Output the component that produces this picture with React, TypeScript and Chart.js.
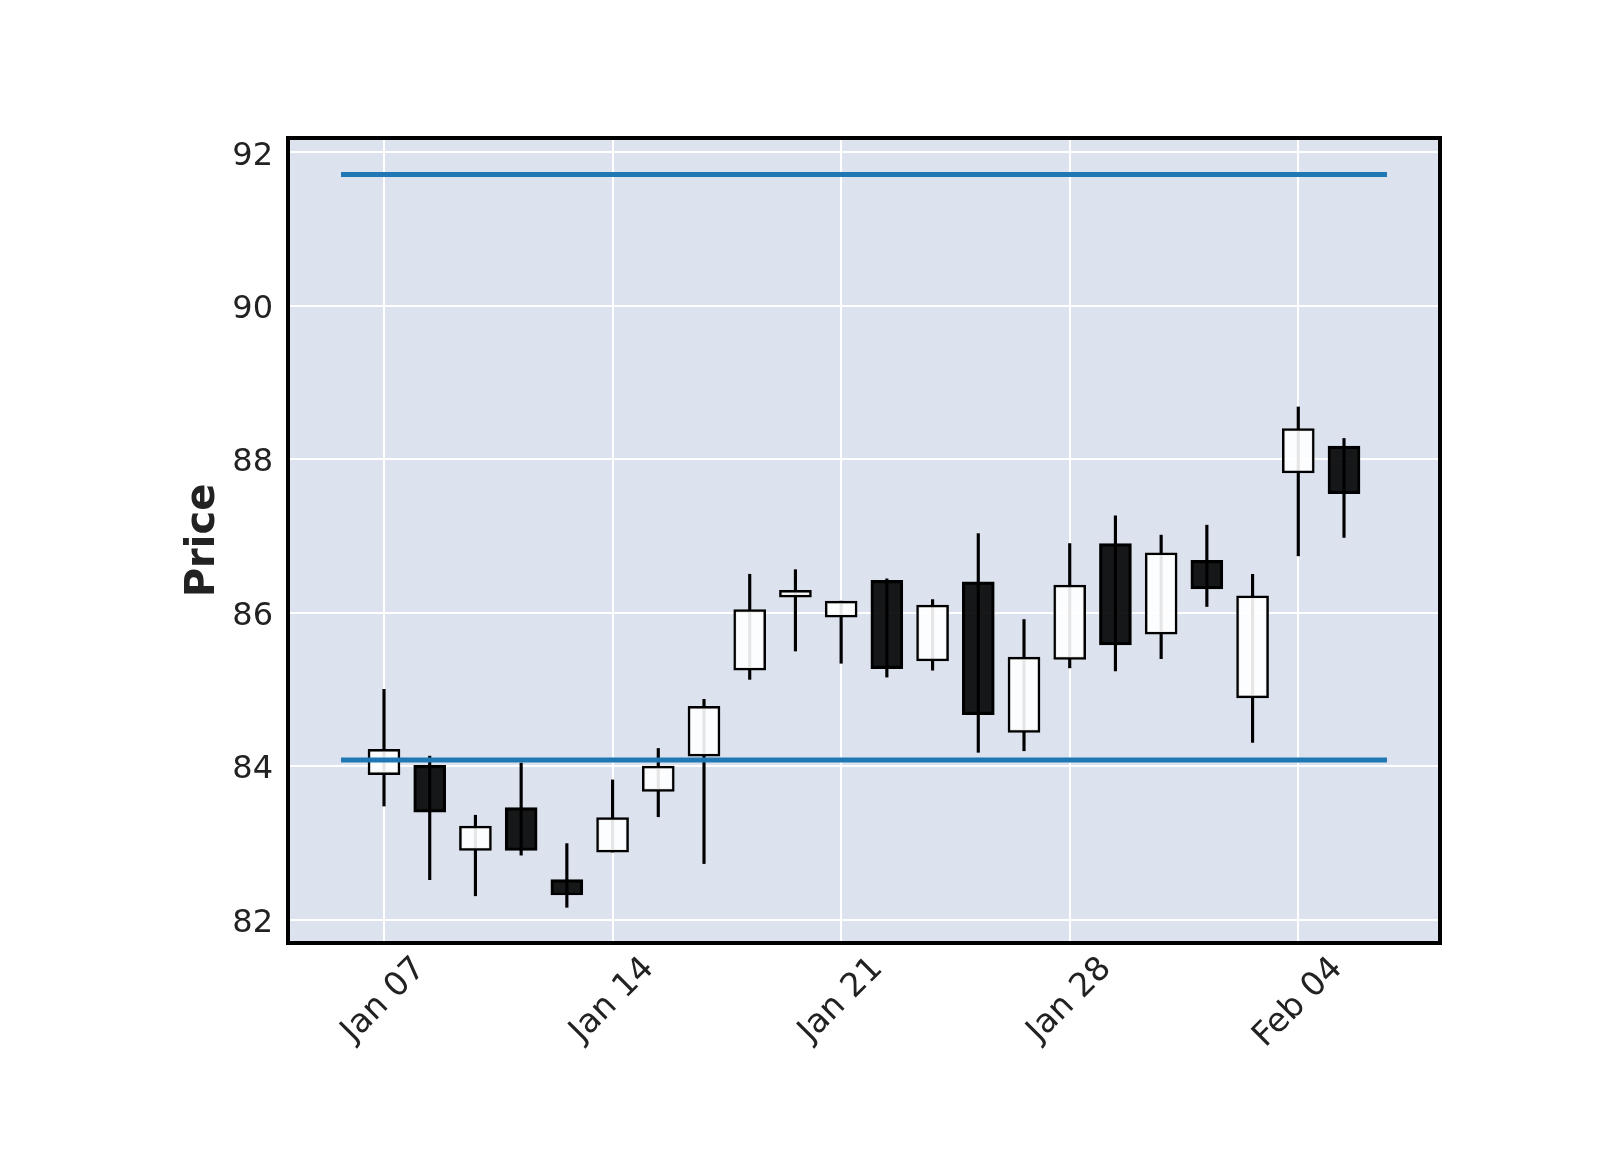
import { useEffect, useRef } from "react";
import { Chart, registerables } from "chart.js";
Chart.register(...registerables);

// trading days, Jan 07 .. Feb 05 (weekends skipped, x axis is the row index)
const dates = [
  "Jan 07", "Jan 08", "Jan 09", "Jan 10", "Jan 11",
  "Jan 14", "Jan 15", "Jan 16", "Jan 17", "Jan 18",
  "Jan 21", "Jan 22", "Jan 23", "Jan 24", "Jan 25",
  "Jan 28", "Jan 29", "Jan 30", "Jan 31", "Feb 01",
  "Feb 04", "Feb 05",
];
const opens = [83.89, 84.01, 82.9, 83.46, 82.52, 82.88, 83.67, 84.13, 85.25, 86.2, 85.94, 86.42, 85.37, 86.4, 84.44, 85.39, 86.9, 85.72, 86.68, 84.89, 87.82, 88.17];
const highs = [85.0, 84.13, 83.36, 84.04, 82.99, 83.82, 84.23, 84.87, 86.5, 86.56, 86.15, 86.44, 86.17, 87.03, 85.91, 86.9, 87.26, 87.01, 87.14, 86.5, 88.68, 88.27];
const lows = [83.48, 82.52, 82.31, 82.84, 82.16, 82.88, 83.34, 82.73, 85.13, 85.5, 85.34, 85.16, 85.25, 84.18, 84.2, 85.28, 85.24, 85.4, 86.08, 84.31, 86.74, 86.98];
const closes = [84.22, 83.4, 83.22, 82.9, 82.32, 83.33, 84.0, 84.78, 86.04, 86.29, 86.15, 85.27, 86.1, 84.67, 85.42, 86.36, 85.58, 86.78, 86.31, 86.22, 88.4, 87.55];

const tickIndex = [0, 5, 10, 15, 20];
const tickLabels = ["Jan 07", "Jan 14", "Jan 21", "Jan 28", "Feb 04"];
const yTicks = [82, 84, 86, 88, 90, 92];

const hLevels = [91.71, 84.08];
const hSpan = [-0.94, 21.94];

const FONT = "'DejaVu Sans', sans-serif";
const AX_BG = "#DCE3EF";

const framePlugin = {
  id: "frame",
  beforeDraw(chart: any) {
    const { ctx, chartArea: a } = chart;
    ctx.save();
    ctx.fillStyle = AX_BG;
    ctx.fillRect(a.left, a.top, a.right - a.left, a.bottom - a.top);
    ctx.restore();
  },
  afterDraw(chart: any) {
    const { ctx, chartArea: a } = chart;
    ctx.save();
    ctx.strokeStyle = "#000";
    ctx.lineWidth = 4;
    ctx.strokeRect(a.left, a.top, a.right - a.left, a.bottom - a.top);

    // matplotlib style: rotated 45deg, bbox centred under the tick
    const xs = chart.scales.x;
    ctx.font = `33px ${FONT}`;
    ctx.fillStyle = "#222";
    ctx.textAlign = "center";
    ctx.textBaseline = "middle";
    tickIndex.forEach((v, i) => {
      const label = tickLabels[i];
      const w = ctx.measureText(label).width;
      const box = (w + 24) * Math.SQRT1_2;
      ctx.save();
      ctx.translate(xs.getPixelForValue(v), a.bottom + 12 + box / 2);
      ctx.rotate(-Math.PI / 4);
      ctx.fillText(label, 0, 0);
      ctx.restore();
    });
    ctx.restore();
  },
};

export default function App() {
  const ref = useRef<HTMLCanvasElement | null>(null);

  useEffect(() => {
    if (!ref.current) return;
    const ctx = ref.current.getContext("2d");
    if (!ctx) return;

    const bodyColors = opens.map((o, i) => (closes[i] >= o ? "rgba(255,255,255,0.9)" : "rgba(0,0,0,0.9)"));

    const chart = new Chart(ctx, {
      type: "bar",
      data: {
        datasets: [
          ...hLevels.map((lv) => ({
            type: "line" as const,
            data: hSpan.map((x) => ({ x, y: lv })),
            borderColor: "#1f77b4",
            borderWidth: 5,
            pointRadius: 0,
            order: 0,
          })),
          {
            type: "bar" as const,
            data: dates.map((_, i) => ({ x: i, y: [opens[i], closes[i]] })),
            backgroundColor: bodyColors,
            borderColor: "#000",
            borderWidth: 2.5,
            borderSkipped: false,
            barThickness: 32,
            grouped: false,
            order: 1,
          },
          {
            type: "bar" as const,
            data: dates.map((_, i) => ({ x: i, y: [lows[i], highs[i]] })),
            backgroundColor: "#000",
            borderWidth: 0,
            barThickness: 2.5,
            grouped: false,
            order: 2,
          },
        ],
      } as any,
      options: {
        animation: false,
        responsive: false,
        devicePixelRatio: 1,
        events: [],
        layout: { padding: { top: 138, right: 160, bottom: 0, left: 0 } },
        plugins: { legend: { display: false }, tooltip: { enabled: false } },
        scales: {
          x: {
            type: "linear",
            min: -2.1,
            max: 23.1,
            offset: false,
            afterBuildTicks: (s: any) => {
              s.ticks = tickIndex.map((v) => ({ value: v }));
            },
            afterFit: (s: any) => {
              s.height = 207;
            },
            ticks: { display: false },
            grid: { color: "#fff", lineWidth: 2, drawTicks: false, offset: false },
            border: { display: false },
          },
          y: {
            type: "linear",
            min: 81.695,
            max: 92.185,
            beginAtZero: false,
            afterBuildTicks: (s: any) => {
              s.ticks = yTicks.map((v) => ({ value: v }));
            },
            afterFit: (s: any) => {
              s.width = 288;
            },
            ticks: {
              font: { family: FONT, size: 32 },
              color: "#222",
              padding: 15,
              labelOffset: 4,
              callback: (v: any) => String(v),
            },
            grid: { color: "#fff", lineWidth: 2, drawTicks: false },
            border: { display: false },
            title: {
              display: true,
              text: "Price",
              color: "#222",
              font: { family: FONT, size: 40, weight: "bold" },
              padding: { top: 180, bottom: 0 },
            },
          },
        },
      } as any,
      plugins: [framePlugin],
    });

    return () => chart.destroy();
  }, []);

  return (
    <div style={{ position: "absolute", left: 0, top: 0, width: 1600, height: 1150, background: "#fff" }}>
      <canvas ref={ref} width={1600} height={1150} style={{ display: "block" }} />
    </div>
  );
}
